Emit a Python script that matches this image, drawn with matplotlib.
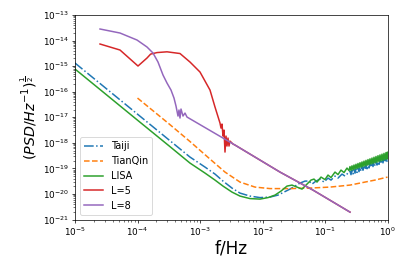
import numpy as np
import matplotlib
matplotlib.use("Agg")
import matplotlib.pyplot as plt

# values, stored as log10(f / Hz) and log10(ASD)

# dense oscillation band near 1 Hz (one reading per pixel column)
band_logf = [-0.6, -0.584, -0.568, -0.552, -0.536, -0.52, -0.504, -0.488,
             -0.472, -0.456, -0.44, -0.424, -0.408, -0.392, -0.376, -0.36,
             -0.344, -0.328, -0.312, -0.296, -0.28, -0.264, -0.248, -0.232,
             -0.216, -0.2, -0.184, -0.168, -0.152, -0.136, -0.12, -0.104,
             -0.088, -0.072, -0.056, -0.04, -0.024, -0.008, 0.0]

taiji_logf = [-5.0, -4.0, -3.5, -3.16, -2.92, -2.76, -2.632, -2.488, -2.36, -2.2,
              -2.04, -1.88, -1.752, -1.656, -1.56, -1.48, -1.4, -1.32, -1.256,
              -1.208, -1.144, -1.08, -1.016, -0.952, -0.904, -0.84, -0.792,
              -0.728, -0.68, -0.616] + band_logf
taiji_logasd = [-14.879, -16.879, -17.879, -18.558, -18.949, -19.223, -19.497,
                -19.771, -19.967, -20.084, -20.143, -20.123, -20.045, -19.928,
                -19.810, -19.693, -19.576, -19.497, -19.497, -19.615, -19.497,
                -19.419, -19.536, -19.380, -19.458, -19.302, -19.380, -19.223,
                -19.302, -19.145,
                -19.110, -19.246, -19.079, -19.217, -19.047, -19.188, -19.016,
                -19.159, -18.984, -19.130, -18.953, -19.102, -18.921, -19.073,
                -18.890, -19.044, -18.858, -19.015, -18.827, -18.986, -18.795,
                -18.958, -18.764, -18.929, -18.732, -18.900, -18.701, -18.871,
                -18.669, -18.842, -18.638, -18.814, -18.606, -18.785, -18.575,
                -18.756, -18.543, -18.727, -18.520]

tianqin_logf = [-4.0, -3.5, -3.16, -2.84, -2.6, -2.36, -2.12, -1.88, -1.56,
                -1.24, -0.92, -0.6, -0.36, -0.2, 0.0]
tianqin_logasd = [-16.249, -17.25, -17.95, -18.636, -19.145, -19.536, -19.732,
                  -19.791, -19.791, -19.771, -19.732, -19.654, -19.536, -19.458,
                  -19.341]

lisa_logf = [-5.0, -4.0, -3.5, -3.16, -2.92, -2.76, -2.632, -2.488, -2.36, -2.2,
             -2.04, -1.912, -1.8, -1.704, -1.608, -1.528, -1.448, -1.368,
             -1.288, -1.224, -1.176, -1.128, -1.064, -1.0, -0.952, -0.904,
             -0.84, -0.792, -0.744, -0.696, -0.648, -0.616] + band_logf
lisa_logasd = [-15.114, -17.114, -18.11, -18.793, -19.184, -19.458, -19.693,
               -19.928, -20.084, -20.182, -20.202, -20.143, -20.045, -19.889,
               -19.693, -19.654, -19.732, -19.810, -19.615, -19.458, -19.419,
               -19.536, -19.341, -19.438, -19.262, -19.360, -19.145, -19.243,
               -19.067, -19.164, -18.988, -19.086,
               -18.930, -19.078, -18.900, -19.053, -18.869, -19.029, -18.839,
               -19.004, -18.808, -18.980, -18.778, -18.955, -18.748, -18.930,
               -18.717, -18.906, -18.687, -18.881, -18.656, -18.857, -18.626,
               -18.832, -18.596, -18.808, -18.565, -18.783, -18.535, -18.759,
               -18.504, -18.734, -18.474, -18.710, -18.444, -18.685, -18.413,
               -18.661, -18.383, -18.636, -18.370]

# tail shared by both L curves
tail_logf = [-3.208, -2.44, -1.72, -1.192, -0.6]
tail_logasd = [-16.992, -18.088, -19.145, -19.850, -20.711]

l5_logf = [-4.6, -4.28, -3.992, -3.848, -3.79, -3.688, -3.528, -3.32, -3.16,
           -3.0, -2.84, -2.76, -2.68, -2.664, -2.648, -2.632, -2.616, -2.6,
           -2.584, -2.568, -2.552, -2.536, -2.52, -2.472] + tail_logf[1:]
l5_logasd = [-14.135, -14.370, -14.996, -14.683, -14.530, -14.470, -14.440,
             -14.507, -14.840, -15.231, -15.936, -16.601, -17.227, -17.423,
             -17.266, -17.736, -17.501, -18.362, -17.736, -18.127, -17.814,
             -18.127, -17.932, -18.049] + tail_logasd[1:]

l8_logf = [-4.6, -4.28, -4.008, -3.848, -3.752, -3.672, -3.592, -3.528, -3.464,
           -3.416, -3.384, -3.352, -3.336, -3.32, -3.304, -3.272, -3.24] + tail_logf
l8_logasd = [-13.548, -13.705, -13.979, -14.252, -14.487, -14.840, -15.348,
             -15.662, -15.936, -16.249, -16.562, -16.953, -16.718, -17.031,
             -16.679, -16.953, -16.836] + tail_logasd

curves = [
    ("Taiji", taiji_logf, taiji_logasd, "-."),
    ("TianQin", tianqin_logf, tianqin_logasd, "--"),
    ("LISA", lisa_logf, lisa_logasd, "-"),
    ("L=5", l5_logf, l5_logasd, "-"),
    ("L=8", l8_logf, l8_logasd, "-"),
]

fig = plt.figure(figsize=(407 / 64, 271 / 64), dpi=64)
ax = fig.add_axes([75 / 407, 1 - 219.5 / 271, 312.5 / 407, 204.5 / 271])

for name, lf, la, ls in curves:
    ax.plot(10.0 ** np.array(lf), 10.0 ** np.array(la), ls, lw=1.7, label=name)

ax.set_xscale("log")
ax.set_yscale("log")
ax.set_xlim(1e-5, 1e0)
ax.set_ylim(1e-21, 1e-13)
ax.set_yticks([10.0 ** e for e in range(-21, -12)])
ax.yaxis.set_minor_locator(matplotlib.ticker.LogLocator(base=10, subs=np.arange(2, 10), numticks=20))
ax.set_xlabel("f/Hz", fontsize=19, labelpad=2)
ax.set_ylabel(r"$(PSD/Hz^{-1})^{\frac{1}{2}}$", fontsize=16)
ax.legend(loc="lower left", fontsize=11)

fig.savefig("out.png", dpi=64)
